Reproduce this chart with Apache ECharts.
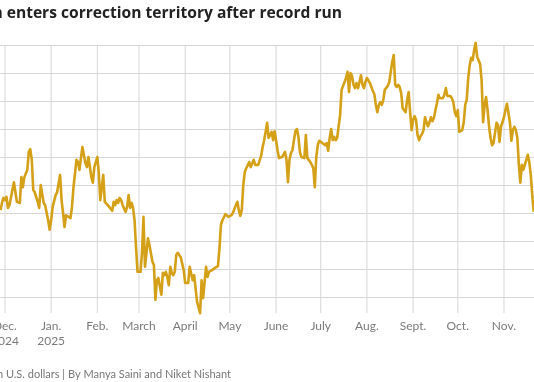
<!DOCTYPE html>
<html>
<head>
<meta charset="utf-8">
<script src="https://cdn.jsdelivr.net/npm/echarts@6/dist/echarts.min.js"></script>
<style>html,body{margin:0;padding:0;background:#fff}#c{width:534px;height:382px}</style>
</head>
<body>
<div id="c"></div>
<script>
const titleText = "Bitcoin enters correction territory after record run";
const subtitleText = "Price in U.S. dollars | By Manya Saini and Niket Nishant";
const monthNames = ["Jan.", "Feb.", "March", "April", "May", "June", "July", "Aug.", "Sept.", "Oct.", "Nov.", "Dec."];
const monthStarts = ["2024-12-01","2025-01-01","2025-02-01","2025-03-01","2025-04-01","2025-05-01","2025-06-01",
                     "2025-07-01","2025-08-01","2025-09-01","2025-10-01","2025-11-01"];
const yTicks = [80000, 85000, 90000, 95000, 100000, 105000, 110000, 115000, 120000, 125000];
const tickBottom = 77140; // lower end of the month tick marks

const dates = [
"2024-11-28","2024-11-29","2024-11-30","2024-12-01","2024-12-02","2024-12-03","2024-12-04","2024-12-07","2024-12-08","2024-12-09",
"2024-12-11","2024-12-12","2024-12-13","2024-12-14","2024-12-15","2024-12-16","2024-12-17","2024-12-18","2024-12-19","2024-12-20",
"2024-12-21","2024-12-22","2024-12-23","2024-12-24","2024-12-25","2024-12-26","2024-12-27","2024-12-28","2024-12-30","2024-12-31",
"2025-01-01","2025-01-02","2025-01-04","2025-01-05","2025-01-06","2025-01-07","2025-01-08","2025-01-09","2025-01-10","2025-01-11",
"2025-01-12","2025-01-14","2025-01-15","2025-01-16","2025-01-17","2025-01-18","2025-01-19","2025-01-20","2025-01-21","2025-01-22",
"2025-01-24","2025-01-25","2025-01-26","2025-01-27","2025-01-28","2025-01-29","2025-01-30","2025-02-01","2025-02-02","2025-02-03",
"2025-02-04","2025-02-05","2025-02-06","2025-02-07","2025-02-08","2025-02-09","2025-02-11","2025-02-12","2025-02-13","2025-02-14",
"2025-02-15","2025-02-16","2025-02-17","2025-02-18","2025-02-20","2025-02-21","2025-02-22","2025-02-23","2025-02-24","2025-02-25",
"2025-02-26","2025-02-27","2025-02-28","2025-03-01","2025-03-02","2025-03-03","2025-03-04","2025-03-05","2025-03-06","2025-03-07",
"2025-03-08","2025-03-10","2025-03-11","2025-03-12","2025-03-13","2025-03-14","2025-03-16","2025-03-17","2025-03-18","2025-03-19",
"2025-03-20","2025-03-21","2025-03-22","2025-03-23","2025-03-24","2025-03-25","2025-03-26","2025-03-27","2025-03-28","2025-03-29",
"2025-03-31","2025-04-01","2025-04-02","2025-04-03","2025-04-04","2025-04-05","2025-04-06","2025-04-07","2025-04-09","2025-04-10",
"2025-04-11","2025-04-12","2025-04-13","2025-04-14","2025-04-15","2025-04-16","2025-04-17","2025-04-18","2025-04-19","2025-04-20",
"2025-04-21","2025-04-22","2025-04-23","2025-04-24","2025-04-25","2025-04-26","2025-04-27","2025-04-28","2025-04-29","2025-04-30",
"2025-05-01","2025-05-02","2025-05-03","2025-05-04","2025-05-05","2025-05-06","2025-05-07","2025-05-08","2025-05-09","2025-05-10",
"2025-05-11","2025-05-12","2025-05-13","2025-05-14","2025-05-15","2025-05-16","2025-05-17","2025-05-18","2025-05-19","2025-05-20",
"2025-05-21","2025-05-22","2025-05-23","2025-05-24","2025-05-25","2025-05-26","2025-05-27","2025-05-28","2025-05-29","2025-05-30",
"2025-05-31","2025-06-01","2025-06-02","2025-06-03","2025-06-04","2025-06-05","2025-06-06","2025-06-07","2025-06-08","2025-06-09",
"2025-06-10","2025-06-11","2025-06-12","2025-06-13","2025-06-14","2025-06-15","2025-06-16","2025-06-17","2025-06-18","2025-06-19",
"2025-06-20","2025-06-21","2025-06-22","2025-06-23","2025-06-24","2025-06-25","2025-06-26","2025-06-27","2025-06-28","2025-06-29",
"2025-06-30","2025-07-01","2025-07-02","2025-07-03","2025-07-04","2025-07-05","2025-07-06","2025-07-07","2025-07-08","2025-07-09",
"2025-07-10","2025-07-11","2025-07-12","2025-07-13","2025-07-14","2025-07-15","2025-07-16","2025-07-17","2025-07-18","2025-07-19",
"2025-07-20","2025-07-21","2025-07-22","2025-07-23","2025-07-24","2025-07-25","2025-07-26","2025-07-27","2025-07-28","2025-07-29",
"2025-07-30","2025-07-31","2025-08-01","2025-08-02","2025-08-03","2025-08-04","2025-08-05","2025-08-06","2025-08-07","2025-08-08",
"2025-08-09","2025-08-10","2025-08-11","2025-08-12","2025-08-13","2025-08-14","2025-08-15","2025-08-16","2025-08-17","2025-08-18",
"2025-08-19","2025-08-20","2025-08-21","2025-08-22","2025-08-23","2025-08-24","2025-08-25","2025-08-26","2025-08-27","2025-08-28",
"2025-08-29","2025-08-30","2025-08-31","2025-09-01","2025-09-02","2025-09-03","2025-09-04","2025-09-05","2025-09-06","2025-09-07",
"2025-09-08","2025-09-09","2025-09-10","2025-09-11","2025-09-12","2025-09-13","2025-09-14","2025-09-15","2025-09-16","2025-09-17",
"2025-09-18","2025-09-19","2025-09-20","2025-09-21","2025-09-22","2025-09-23","2025-09-24","2025-09-25","2025-09-26","2025-09-27",
"2025-09-28","2025-09-29","2025-09-30","2025-10-01","2025-10-02","2025-10-03","2025-10-04","2025-10-05","2025-10-06","2025-10-07",
"2025-10-08","2025-10-09","2025-10-10","2025-10-11","2025-10-12","2025-10-13","2025-10-14","2025-10-15","2025-10-16","2025-10-17",
"2025-10-18","2025-10-19","2025-10-20","2025-10-21","2025-10-22","2025-10-23","2025-10-24","2025-10-25","2025-10-26","2025-10-27",
"2025-10-28","2025-10-29","2025-10-30","2025-10-31","2025-11-01","2025-11-02","2025-11-03","2025-11-04","2025-11-05","2025-11-06",
"2025-11-07","2025-11-08","2025-11-09","2025-11-10","2025-11-11","2025-11-12","2025-11-13","2025-11-14","2025-11-15","2025-11-16",
"2025-11-17","2025-11-18","2025-11-19","2025-11-20","2025-11-21"
];

const prices = [
95500,96800,97700,97300,97900,95900,96400,100500,100400,97000,
96800,101400,99600,101400,101300,102700,105900,106400,104500,99100,
98700,98700,97000,95900,100000,100200,96800,96400,93700,92000,
93700,96100,98200,98700,98700,101800,97300,95000,92500,94600,
94300,94100,96100,99600,99600,104500,104100,102700,104800,106800,
103900,103200,105000,105000,101400,100400,103200,105000,102100,97300,
99600,101800,97000,96800,96400,96100,95400,97000,96400,97300,
96800,97700,97300,96400,95200,96100,98200,95900,96800,95900,
93700,88900,84500,84300,84500,87900,94300,85400,87900,90500,
89300,86300,85700,79500,83000,83400,80400,84300,83900,84500,
83600,82100,85400,84300,83900,84500,87500,87900,87900,87100,
84800,82500,82700,82500,85400,85700,83000,83900,79100,78900,
77100,83000,79800,79800,85400,83600,84500,84300,84800,84500,
85200,85200,85500,88700,92900,93700,93900,94800,94600,94300,
94600,94600,95000,95200,96400,97000,95500,94500,95500,100000,
102300,103000,103200,104100,103200,103900,104500,103600,103400,103600,
103900,105200,106800,108000,109500,111100,108400,108900,109500,108000,
109600,108000,106200,104800,105000,105000,105400,105900,104500,100500,
104500,105700,106200,108000,109600,110000,108600,105900,105000,104800,
104800,108900,104800,104800,104100,103600,103000,99600,105000,107100,
107900,107700,107500,107500,107100,107500,106100,108400,110000,108000,
108600,108000,108400,108600,112500,117000,117700,117900,119100,120200,
116600,120000,119500,117900,117300,118200,117300,118400,119600,117900,
117300,118400,119100,118700,118200,117500,116800,116200,114300,113000,
114300,114800,114300,115200,117000,116800,117700,118400,120200,122000,
123200,117900,117500,117900,117500,116400,113700,113400,113000,115200,
116600,113000,109800,111600,112300,111600,108900,108000,108700,109100,
109800,112100,111200,110500,111200,112100,111400,112000,113400,114600,
116100,115500,115700,115500,116100,117300,115900,116200,115900,115500,
114800,113000,112300,113400,109500,109300,109800,111200,114300,115200,
119100,121400,122700,122300,124100,125400,122900,122700,121600,118700,
111200,114300,115700,113400,110400,108400,107100,107500,109300,111100,
110700,107700,110400,111200,112100,113400,114500,112900,111200,107900,
109800,110400,109800,108400,103600,100400,103600,102700,103600,103900,
105400,104100,101800,98200,95200
];

const chart = echarts.init(document.getElementById('c'), null, {renderer: 'canvas'});
const seriesData = dates.map((d, i) => [d, prices[i]]);
const grey = '#d6d6d6';
const labelFont = 'Lato, "Open Sans", "DejaVu Sans", sans-serif';
const yTop = yTicks[yTicks.length - 1];

// vertical month gridlines (+ tick marks below the plot) drawn as a line series per month
const monthSeries = monthStarts.map(m => ({
  type: 'line',
  data: [[m, yTop], [m, tickBottom]],
  silent: true,
  clip: false,
  showSymbol: false,
  symbol: 'none',
  z: 1,
  lineStyle: {color: grey, width: 1},
  itemStyle: {color: grey},
  emphasis: {disabled: true}
}));

chart.setOption({
  animation: false,
  backgroundColor: '#ffffff',
  tooltip: {show: false},
  grid: {left: 0, right: 0, top: 45, bottom: 85, outerBoundsMode: 'none', containLabel: false},
  xAxis: {
    type: 'time',
    min: '2024-11-27 16:00:00',
    max: '2025-11-21 04:00:00',
    splitNumber: 12,
    axisLine: {show: false},
    axisTick: {show: false},
    splitLine: {show: false},
    axisLabel: {
      color: '#7a7a7a',
      fontFamily: labelFont,
      fontSize: 12,
      lineHeight: 15,
      margin: 22,
      hideOverlap: false,
      formatter: function (value) {
        const d = new Date(value);
        if (d.getDate() !== 1 || d.getHours() !== 0) return '';
        const m = d.getMonth();
        let s = monthNames[m];
        if (m === 11 || m === 0) s += '\n' + d.getFullYear();
        return s;
      }
    }
  },
  yAxis: {
    type: 'value',
    min: yTicks[0],
    max: yTop,
    interval: yTicks[1] - yTicks[0],
    axisLine: {show: false},
    axisTick: {show: false},
    axisLabel: {show: false},
    splitLine: {show: true, lineStyle: {color: grey, width: 1}}
  },
  series: monthSeries.concat([
    {
      type: 'line',
      data: seriesData,
      showSymbol: false,
      clip: false,
      z: 3,
      lineStyle: {color: '#d4a017', width: 2.6, join: 'round'},
      itemStyle: {color: '#d4a017'}
    }
  ]),
  graphic: [
    {type: 'text', style: {text: titleText, x: 342, y: 14, textAlign: 'right', textVerticalAlign: 'middle',
      fill: '#222', font: 'bold 15.6px "Open Sans", Lato, sans-serif'}},
    {type: 'text', style: {text: subtitleText, x: 231, y: 374, textAlign: 'right', textVerticalAlign: 'middle',
      fill: '#777', font: '11px ' + labelFont}}
  ]
});
</script>
</body>
</html>
